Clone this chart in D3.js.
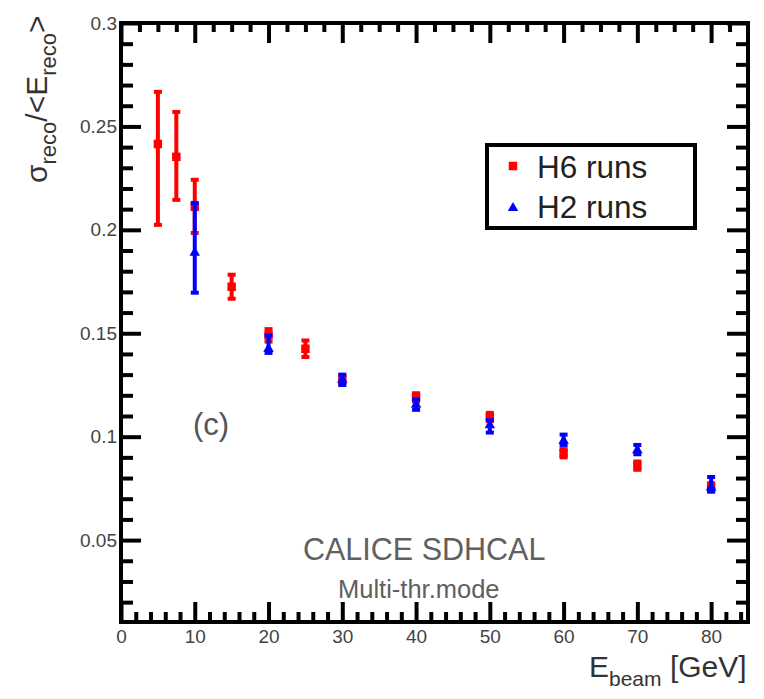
<!DOCTYPE html>
<html>
<head>
<meta charset="utf-8">
<script src="https://cdn.jsdelivr.net/npm/d3@7"></script>
<style>
  body { margin: 0; background: #fff; }
  svg { display: block; font-family: "Liberation Sans", Arial, sans-serif; }
</style>
</head>
<body>
<div id="viz"></div>
<script>
// H6 runs (red squares)
const h6Energy = [5, 7.5, 10, 15, 20, 25, 30, 40, 50, 60, 70, 80];
const h6Value  = [0.2415, 0.2353, 0.2111, 0.1725, 0.149, 0.1425, 0.1275, 0.119, 0.1095, 0.092, 0.086, 0.0755];
const h6Lo     = [0.2024, 0.2145, 0.1985, 0.1667, 0.146, 0.1385, 0.1255, 0.117, 0.1075, 0.090, 0.084, 0.0735];
const h6Hi     = [0.2667, 0.2570, 0.2242, 0.1783, 0.152, 0.1465, 0.1295, 0.121, 0.1115, 0.094, 0.088, 0.0775];

// H2 runs (blue triangles)
const h2Energy = [10, 20, 30, 40, 50, 60, 70, 80];
const h2Value  = [0.1889, 0.1425, 0.1275, 0.1155, 0.1055, 0.0980, 0.0935, 0.0755];
const h2Lo     = [0.1696, 0.1405, 0.1250, 0.1130, 0.1020, 0.0960, 0.0915, 0.0735];
const h2Hi     = [0.2130, 0.1490, 0.1300, 0.1180, 0.1080, 0.1010, 0.0960, 0.0805];

const yMajor = [0.05, 0.1, 0.15, 0.2, 0.25, 0.3];
const yMajorLabels = ["0.05", "0.1", "0.15", "0.2", "0.25", "0.3"];
const xMajor = [0, 10, 20, 30, 40, 50, 60, 70, 80];

const W = 764, H = 699;
const frame = { left: 121, right: 748, top: 23, bottom: 622 };

const x = d3.scaleLinear().domain([0, 85]).range([frame.left, frame.right]);
const y = d3.scaleLinear().domain([0.0104, 0.3]).range([frame.bottom, frame.top]);

const svg = d3.select("#viz").append("svg")
  .attr("width", W)
  .attr("height", H);

// minor tick values
const yMinor = d3.range(2, 30).map(d => d / 100).filter(v => !yMajor.some(m => Math.abs(m - v) < 1e-9));
const xMinorBottom = d3.range(2, 85, 2).filter(v => v % 10 !== 0);
const xMinorTop = d3.range(2.5, 85, 2.5).filter(v => v % 10 !== 0);

function styleAxis(g) {
  g.select(".domain").remove();
  g.selectAll(".tick line").attr("stroke", "#000").attr("stroke-width", 4);
  g.selectAll(".tick text").attr("fill", "#444").style("font-size", "19px");
}

// left axis
svg.append("g").attr("transform", `translate(${frame.left},0)`)
  .call(d3.axisLeft(y).tickValues(yMajor).tickSize(-20).tickPadding(4)
    .tickFormat((d, i) => yMajorLabels[i]))
  .call(styleAxis);
svg.append("g").attr("transform", `translate(${frame.left},0)`)
  .call(d3.axisLeft(y).tickValues(yMinor).tickSize(-12).tickFormat(""))
  .call(styleAxis);

// right axis
svg.append("g").attr("transform", `translate(${frame.right},0)`)
  .call(d3.axisRight(y).tickValues(yMajor).tickSize(-21).tickFormat(""))
  .call(styleAxis);
svg.append("g").attr("transform", `translate(${frame.right},0)`)
  .call(d3.axisRight(y).tickValues(yMinor).tickSize(-12).tickFormat(""))
  .call(styleAxis);

// bottom axis
svg.append("g").attr("transform", `translate(0,${frame.bottom})`)
  .call(d3.axisBottom(x).tickValues(xMajor).tickSize(-20).tickPadding(4).tickFormat(d3.format("d")))
  .call(styleAxis)
  .selectAll(".tick text").attr("dy", "0.9em");
svg.append("g").attr("transform", `translate(0,${frame.bottom})`)
  .call(d3.axisBottom(x).tickValues(xMinorBottom).tickSize(-10).tickFormat(""))
  .call(styleAxis);

// top axis
svg.append("g").attr("transform", `translate(0,${frame.top})`)
  .call(d3.axisTop(x).tickValues(xMajor).tickSize(-20).tickFormat(""))
  .call(styleAxis);
svg.append("g").attr("transform", `translate(0,${frame.top})`)
  .call(d3.axisTop(x).tickValues(xMinorTop).tickSize(-9).tickFormat(""))
  .call(styleAxis);

// frame
svg.append("rect")
  .attr("x", frame.left).attr("y", frame.top)
  .attr("width", frame.right - frame.left)
  .attr("height", frame.bottom - frame.top)
  .attr("fill", "none")
  .attr("stroke", "#000")
  .attr("stroke-width", 4);

/*
 * data series
 */
function drawSeries(energy, value, lo, hi, color, symbol, cls) {
  const data = energy.map((e, i) => ({ e, v: value[i], lo: lo[i], hi: hi[i] }));
  const g = svg.append("g").attr("class", cls);

  g.selectAll("line.bar").data(data).enter()
    .append("line").attr("class", "bar")
    .attr("x1", d => x(d.e)).attr("x2", d => x(d.e))
    .attr("y1", d => y(d.lo)).attr("y2", d => y(d.hi))
    .attr("stroke", color).attr("stroke-width", 4);

  ["lo", "hi"].forEach(k => {
    g.selectAll("line.cap" + k).data(data).enter()
      .append("line").attr("class", "cap" + k)
      .attr("x1", d => x(d.e) - 4).attr("x2", d => x(d.e) + 4)
      .attr("y1", d => y(d[k])).attr("y2", d => y(d[k]))
      .attr("stroke", color).attr("stroke-width", 4);
  });

  g.selectAll("path.pt").data(data).enter()
    .append("path").attr("class", "pt")
    .attr("transform", d => `translate(${x(d.e)},${y(d.v)})`)
    .attr("d", symbol)
    .attr("fill", color);
}

const square = d3.symbol().type(d3.symbolSquare).size(72)();
const triangle = d3.symbol().type(d3.symbolTriangle).size(48)();

drawSeries(h6Energy, h6Value, h6Lo, h6Hi, "#ff0000", square, "h6");
drawSeries(h2Energy, h2Value, h2Lo, h2Hi, "#0000ff", triangle, "h2");

/*
 * legend
 */
const legend = svg.append("g");
legend.append("rect")
  .attr("x", 487).attr("y", 145).attr("width", 208).attr("height", 83)
  .attr("fill", "#fff").attr("stroke", "#000").attr("stroke-width", 4);
legend.append("path").attr("d", square).attr("fill", "#ff0000")
  .attr("transform", "translate(513,166)");
legend.append("path").attr("d", triangle).attr("fill", "#0000ff")
  .attr("transform", "translate(513,208)");
legend.append("text").attr("x", 537).attr("y", 178)
  .style("font-size", "31.5px").attr("fill", "#222").text("H6 runs");
legend.append("text").attr("x", 537).attr("y", 218)
  .style("font-size", "31.5px").attr("fill", "#222").text("H2 runs");

/*
 * annotations
 */
svg.append("text").attr("x", 193).attr("y", 435)
  .style("font-size", "31px").attr("fill", "#555").text("(c)");
svg.append("text").attr("x", 303).attr("y", 560)
  .style("font-size", "30.5px").attr("fill", "#606060").text("CALICE SDHCAL");
svg.append("text").attr("x", 338).attr("y", 598)
  .style("font-size", "25.5px").attr("fill", "#606060").text("Multi-thr.mode");

// x title
const xt = svg.append("text").attr("x", 589).attr("y", 677)
  .style("font-size", "30px").attr("fill", "#333");
xt.append("tspan").text("E");
xt.append("tspan").attr("dy", 9).style("font-size", "21px").text("beam");
xt.append("tspan").attr("dy", -9).text(" [GeV]");

// y title
const yt = svg.append("text")
  .attr("transform", "translate(47,183) rotate(-90)")
  .style("font-size", "30px").attr("fill", "#333");
yt.append("tspan").text("σ");
yt.append("tspan").attr("dy", 9).style("font-size", "22px").text("reco");
yt.append("tspan").attr("dy", -9).text("/<E");
yt.append("tspan").attr("dy", 9).style("font-size", "22px").text("reco");
yt.append("tspan").attr("dy", -9).text(">");
</script>
</body>
</html>
